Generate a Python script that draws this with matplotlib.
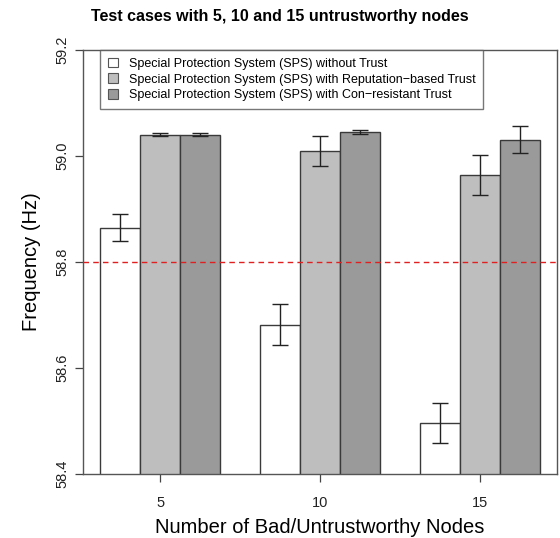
import numpy as np
import matplotlib
matplotlib.use("Agg")
import matplotlib.pyplot as plt
from matplotlib.patches import Patch

plt.rcParams['font.family'] = ['Liberation Sans', 'DejaVu Sans']

# data
nodes = ["5", "10", "15"]
series_names = [
    "Special Protection System (SPS) without Trust",
    "Special Protection System (SPS) with Reputation\u2212based Trust",
    "Special Protection System (SPS) with Con\u2212resistant Trust",
]
no_trust = [58.865, 58.682, 58.496]
no_trust_err = [0.025, 0.039, 0.037]
reputation = [59.040, 59.009, 58.964]
reputation_err = [0.003, 0.028, 0.038]
con_resistant = [59.040, 59.046, 59.031]
con_resistant_err = [0.003, 0.004, 0.025]
threshold = 58.8

fill_colors = ["white", "#bebebe", "#9a9a9a"]
edge = "#3a3a3a"

fig = plt.figure(figsize=(5.6, 5.38), dpi=100)
ax = fig.add_axes([0.148, 0.119, 0.847, 0.788])

# R barplot(beside=TRUE) layout: 3 bars per group, one bar gap between groups
group_start = np.array([1, 5, 9])
all_vals = [no_trust, reputation, con_resistant]
all_errs = [no_trust_err, reputation_err, con_resistant_err]
for i, (vals, errs) in enumerate(zip(all_vals, all_errs)):
    x = group_start + i + 0.5
    ax.bar(x, vals, width=1.0, color=fill_colors[i], edgecolor=edge,
           linewidth=1.0, zorder=2)
    ax.errorbar(x, vals, yerr=errs, fmt="none", ecolor="#222222",
                elinewidth=1.0, capsize=5.8, capthick=1.0, zorder=3)

ax.axhline(threshold, color="#e02020", linestyle=(0, (4, 3)), linewidth=1.0,
           zorder=4)

ax.set_xlim(0.56, 12.44)
ax.set_ylim(58.4, 59.2)
ax.set_yticks([58.4, 58.6, 58.8, 59.0, 59.2])
ax.set_yticklabels(["58.4", "58.6", "58.8", "59.0", "59.2"], rotation=90,
                   va="center")
ax.set_xticks(group_start + 1.5)
ax.set_xticklabels(nodes)
ax.tick_params(axis="both", labelsize=10.5, length=5.8, width=0.9,
               color="#444444", labelcolor="#222222")
ax.tick_params(axis="x", pad=10)
ax.tick_params(axis="y", pad=4)
for sp in ax.spines.values():
    sp.set_color("#555555")
    sp.set_linewidth(1.0)

ax.set_ylabel("Frequency (Hz)", fontsize=14.5, labelpad=10)
ax.set_xlabel("Number of Bad/Untrustworthy Nodes", fontsize=14.5, labelpad=6)
fig.suptitle("Test cases with 5, 10 and 15 untrustworthy nodes",
             fontsize=11.5, fontweight="bold", y=0.983)

handles = [Patch(facecolor=c, edgecolor="#555555", linewidth=0.8)
           for c in fill_colors]
leg = ax.legend(handles, series_names, loc="upper left",
                bbox_to_anchor=(0.036, 1.0), fontsize=9.0, frameon=True,
                fancybox=False, edgecolor="#555555", handlelength=0.85,
                handleheight=0.8, handletextpad=0.85, labelspacing=0.28,
                borderpad=0.62, borderaxespad=0.0)
leg.get_frame().set_linewidth(1.0)

fig.savefig("out.png", dpi=100)
